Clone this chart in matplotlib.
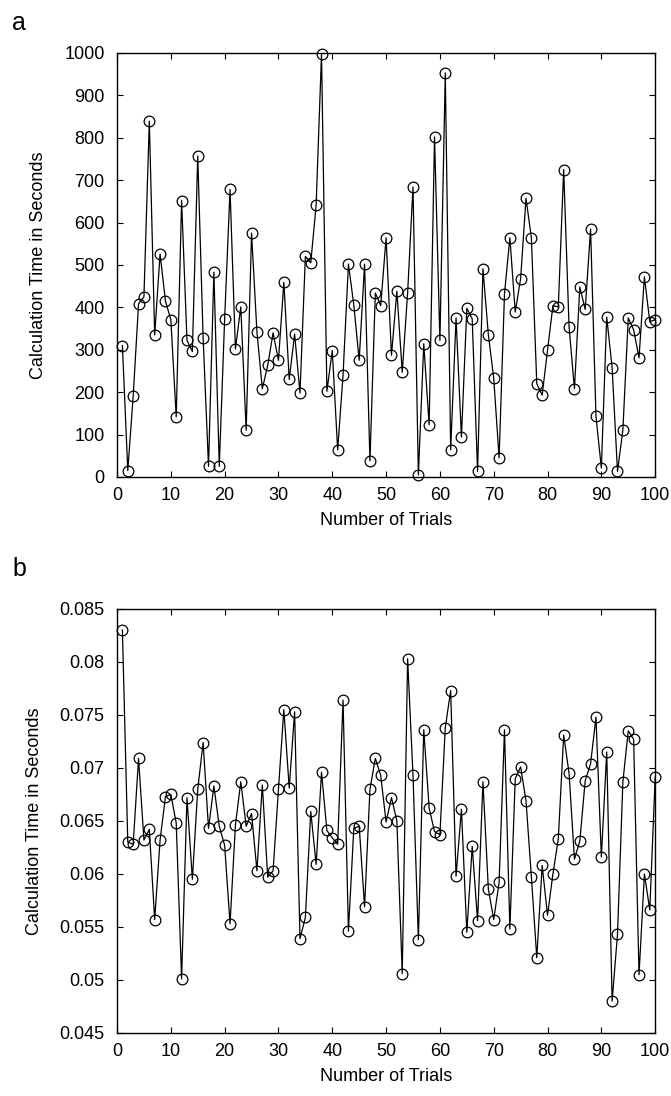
import matplotlib
matplotlib.use("Agg")
import matplotlib.pyplot as plt
import numpy as np

plt.rcParams['font.family'] = ['Liberation Sans', 'DejaVu Sans']
plt.rcParams['font.size'] = 13

trials = np.arange(1, 101)

# panel a - calculation time (s)
time_a = [310, 15, 190, 408, 425, 839, 335, 526, 415, 371,
          142, 652, 322, 296, 757, 328, 25, 483, 25, 373,
          678, 302, 401, 110, 575, 342, 208, 263, 340, 275,
          459, 230, 337, 198, 520, 505, 641, 998, 202, 298,
          64, 240, 502, 406, 275, 502, 38, 434, 404, 564,
          287, 438, 247, 434, 684, 5, 314, 123, 802, 322,
          953, 64, 375, 94, 398, 373, 13, 491, 336, 233,
          45, 432, 564, 389, 468, 657, 564, 220, 193, 299,
          404, 401, 725, 354, 208, 448, 395, 585, 143, 21,
          377, 258, 13, 111, 375, 347, 281, 472, 366, 371]

# panel b - calculation time (s)
time_b = [0.0830, 0.0630, 0.0628, 0.0709, 0.0632, 0.0642, 0.0557, 0.0632, 0.0673, 0.0675,
          0.0648, 0.0501, 0.0672, 0.0595, 0.0680, 0.0724, 0.0643, 0.0683, 0.0645, 0.0627,
          0.0553, 0.0646, 0.0687, 0.0645, 0.0657, 0.0603, 0.0684, 0.0597, 0.0603, 0.0680,
          0.0755, 0.0681, 0.0753, 0.0539, 0.0559, 0.0659, 0.0609, 0.0696, 0.0641, 0.0634,
          0.0628, 0.0764, 0.0546, 0.0643, 0.0645, 0.0569, 0.0680, 0.0709, 0.0693, 0.0649,
          0.0672, 0.0650, 0.0506, 0.0803, 0.0693, 0.0538, 0.0736, 0.0662, 0.0640, 0.0637,
          0.0738, 0.0773, 0.0598, 0.0661, 0.0545, 0.0626, 0.0556, 0.0687, 0.0586, 0.0557,
          0.0592, 0.0736, 0.0548, 0.0690, 0.0701, 0.0669, 0.0597, 0.0521, 0.0608, 0.0561,
          0.0600, 0.0633, 0.0731, 0.0695, 0.0614, 0.0631, 0.0688, 0.0704, 0.0748, 0.0616,
          0.0715, 0.0480, 0.0543, 0.0687, 0.0735, 0.0727, 0.0505, 0.0600, 0.0566, 0.0691]

xticks = [0, 10, 20, 30, 40, 50, 60, 70, 80, 90, 100]
yticks_a = [0, 100, 200, 300, 400, 500, 600, 700, 800, 900, 1000]
yticks_b = [0.045, 0.05, 0.055, 0.06, 0.065, 0.07, 0.075, 0.08, 0.085]

fig = plt.figure(figsize=(6.71, 10.96), dpi=100)
ax1 = fig.add_axes([0.1744, 0.5648, 0.802, 0.3869])
ax2 = fig.add_axes([0.1744, 0.0575, 0.802, 0.3869])

for ax, y, yt, lab, ly in [(ax1, time_a, yticks_a, 'a', 0.99),
                           (ax2, time_b, yticks_b, 'b', 0.492)]:
    ax.plot(trials, y, color='black', lw=0.9, marker='o', ms=7.7,
            mfc='none', mec='black', mew=0.9, clip_on=False, zorder=3)
    ax.set_xlim(0, 100)
    ax.set_ylim(yt[0], yt[-1])
    ax.set_xticks(xticks)
    ax.set_yticks(yt)
    ax.set_yticklabels(['%g' % v for v in yt])
    ax.tick_params(direction='in', top=True, right=True, length=4, width=0.8)
    ax.tick_params(axis='x', pad=7)
    ax.tick_params(axis='y', pad=9)
    for s in ax.spines.values():
        s.set_linewidth(1.0)
    ax.set_xlabel('Number of Trials', labelpad=6)
    ax.set_ylabel('Calculation Time in Seconds', labelpad=12)
    fig.text(0.018, ly, lab, fontsize=18, va='top', ha='left')

fig.savefig('out.png', dpi=100)
